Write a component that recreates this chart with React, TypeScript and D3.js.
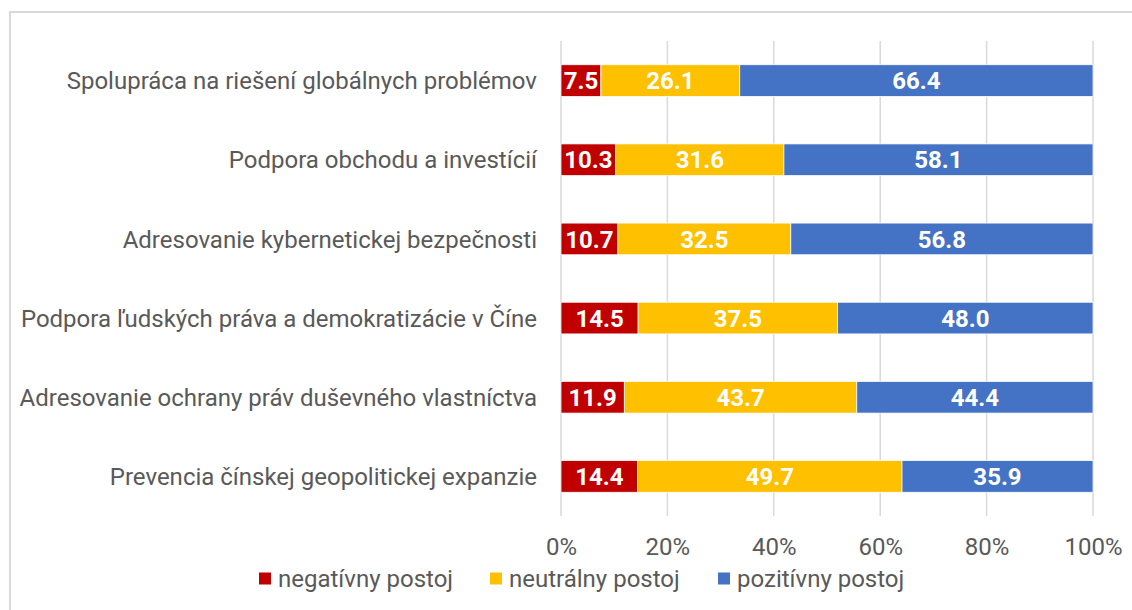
import React, { useEffect, useRef } from "react";
import * as d3 from "d3";

const categories = [
  "Spolupráca na riešení globálnych problémov",
  "Podpora obchodu a investícií",
  "Adresovanie kybernetickej bezpečnosti",
  "Podpora ľudských práva a demokratizácie v Číne",
  "Adresovanie ochrany práv duševného vlastníctva",
  "Prevencia čínskej geopolitickej expanzie",
];
const negative = [7.5, 10.3, 10.7, 14.5, 11.9, 14.4];
const neutral = [26.1, 31.6, 32.5, 37.5, 43.7, 49.7];
const positive = [66.4, 58.1, 56.8, 48.0, 44.4, 35.9];
const seriesNames = ["negatívny postoj", "neutrálny postoj", "pozitívny postoj"];
const colors = ["#C00000", "#FFC000", "#4472C4"];
const ticks = [0, 20, 40, 60, 80, 100];

const FONT = "Roboto, 'Noto Sans', sans-serif";

export default function App() {
  const ref = useRef<SVGSVGElement>(null);

  useEffect(() => {
    const svg = d3.select(ref.current);
    svg.selectAll("*").remove();

    const W = 1132, H = 610;
    const left = 561, right = 1093, top = 41, bottom = 516;

    // outer frame
    svg.append("rect")
      .attr("x", 10).attr("y", 12)
      .attr("width", W).attr("height", H)
      .attr("fill", "#fff")
      .attr("stroke", "#d9d9d9").attr("stroke-width", 2);

    const x = d3.scaleLinear().domain([0, 100]).range([left, right]);
    const y = d3.scaleBand<string>().domain(categories).range([top, bottom])
      .paddingInner(0.6).paddingOuter(0.3);

    // gridlines
    svg.append("g").selectAll("line").data(ticks).join("line")
      .attr("x1", d => x(d)).attr("x2", d => x(d))
      .attr("y1", top).attr("y2", bottom)
      .attr("stroke", "#d9d9d9").attr("stroke-width", 1.5);

    // stacked bars
    const rows = categories.map((c, i) => ({ cat: c, vals: [negative[i], neutral[i], positive[i]] }));
    const segs: { cat: string; s: number; x0: number; x1: number; v: number }[] = [];
    rows.forEach(r => {
      let acc = 0;
      r.vals.forEach((v, s) => {
        segs.push({ cat: r.cat, s, x0: acc, x1: acc + v, v });
        acc += v;
      });
    });

    const g = svg.append("g");
    g.selectAll("rect").data(segs).join("rect")
      .attr("x", d => x(d.x0))
      .attr("y", d => y(d.cat)!)
      .attr("width", d => x(d.x1) - x(d.x0))
      .attr("height", y.bandwidth())
      .attr("fill", d => colors[d.s])
      .attr("stroke", "#fff").attr("stroke-width", 0.75);

    g.selectAll("text").data(segs).join("text")
      .attr("x", d => (x(d.x0) + x(d.x1)) / 2)
      .attr("y", d => y(d.cat)! + y.bandwidth() / 2)
      .attr("dy", "0.36em")
      .attr("text-anchor", "middle")
      .attr("fill", "#fff")
      .attr("font-family", FONT).attr("font-weight", "bold").attr("font-size", 24)
      .text(d => d.v.toFixed(1));

    // category labels
    svg.append("g").selectAll("text").data(categories).join("text")
      .attr("x", 537)
      .attr("y", d => y(d)! + y.bandwidth() / 2)
      .attr("dy", "0.36em")
      .attr("text-anchor", "end")
      .attr("fill", "#595959")
      .attr("font-family", FONT).attr("font-size", 24)
      .text(d => d);

    // x axis labels
    const axis = svg.append("g").attr("transform", `translate(0, ${bottom + 30})`)
      .call(d3.axisBottom(x).tickValues(ticks).tickSize(0).tickFormat(d => `${d}%`));
    axis.select(".domain").remove();
    axis.selectAll("text")
      .attr("fill", "#595959")
      .attr("font-family", FONT).attr("font-size", 24)
      .attr("dy", "0.36em").attr("y", 0);

    // legend
    const legendX = [259, 490, 718];
    const lg = svg.append("g").selectAll("g").data(seriesNames).join("g")
      .attr("transform", (d, i) => `translate(${legendX[i]}, 578.5)`);
    lg.append("rect")
      .attr("x", 0).attr("y", -6).attr("width", 12).attr("height", 12)
      .attr("fill", (d, i) => colors[i]);
    lg.append("text")
      .attr("x", 19).attr("dy", "0.36em")
      .attr("fill", "#595959")
      .attr("font-family", FONT).attr("font-size", 24)
      .text(d => d);
  }, []);

  return (
    <svg ref={ref} width={1132} height={610}
      style={{ position: "absolute", left: 0, top: 0, background: "#fff" }} />
  );
}
